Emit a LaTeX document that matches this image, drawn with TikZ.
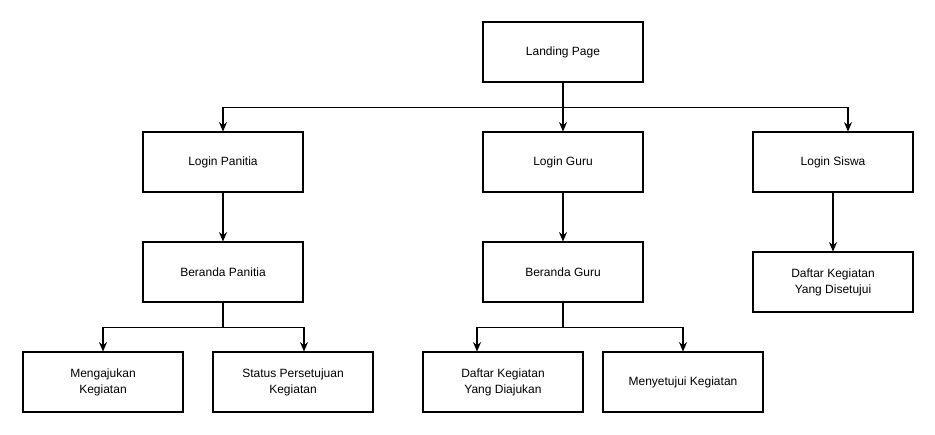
\documentclass[tikz,border=0pt]{standalone}
\usepackage{fontspec}
\setmainfont{Liberation Sans}
\usetikzlibrary{arrows.meta}

\begin{document}
\begin{tikzpicture}[x=0.75pt,y=-0.75pt,>={Stealth[length=7pt,width=6pt]},
  blok/.style={draw,line width=0.8pt,minimum width=120pt,minimum height=45pt,inner sep=0pt,align=center,font=\fontsize{9}{12}\selectfont}]
\useasboundingbox (0,0) rectangle (935,435);
%Уровень 1
\node[blok] (landing) at (563,52) {Landing Page};
%Уровень 2 - вход
\node[blok] (loginPanitia) at (223,162) {Login Panitia};
\node[blok] (loginGuru) at (563,162) {Login Guru};
\node[blok] (loginSiswa) at (833,162) {Login Siswa};
%Уровень 3
\node[blok] (berandaPanitia) at (223,272) {Beranda Panitia};
\node[blok] (berandaGuru) at (563,272) {Beranda Guru};
\node[blok] (disetujui) at (833,282) {Daftar Kegiatan\\Yang Disetujui};
%Уровень 4
\node[blok] (mengajukan) at (103,382) {Mengajukan\\Kegiatan};
\node[blok] (status) at (293,382) {Status Persetujuan\\Kegiatan};
\node[blok] (diajukan) at (503,382) {Daftar Kegiatan\\Yang Diajukan};
\node[blok] (menyetujui) at (683,382) {Menyetujui Kegiatan};
%Стрелки
\draw[line width=0.8pt,->] (landing.south) -- ++(0,25) -| (loginPanitia.north);
\draw[line width=0.8pt,->] (landing.south) -- (loginGuru.north);
\draw[line width=0.8pt,->] (landing.south) -- ++(0,25) -| ([xshift=11.25pt]loginSiswa.north);
\draw[line width=0.8pt,->] (loginPanitia) -- (berandaPanitia);
\draw[line width=0.8pt,->] (loginGuru) -- (berandaGuru);
\draw[line width=0.8pt,->] (loginSiswa) -- (disetujui);
\draw[line width=0.8pt,->] (berandaPanitia.south) -- ++(0,25) -| (mengajukan.north);
\draw[line width=0.8pt,->] (berandaPanitia.south) -- ++(0,25) -| ([xshift=8.25pt]status.north);
\draw[line width=0.8pt,->] (berandaGuru.south) -- ++(0,25) -| ([xshift=-19.5pt]diajukan.north);
\draw[line width=0.8pt,->] (berandaGuru.south) -- ++(0,25) -| (menyetujui.north);
\end{tikzpicture}
\end{document}
